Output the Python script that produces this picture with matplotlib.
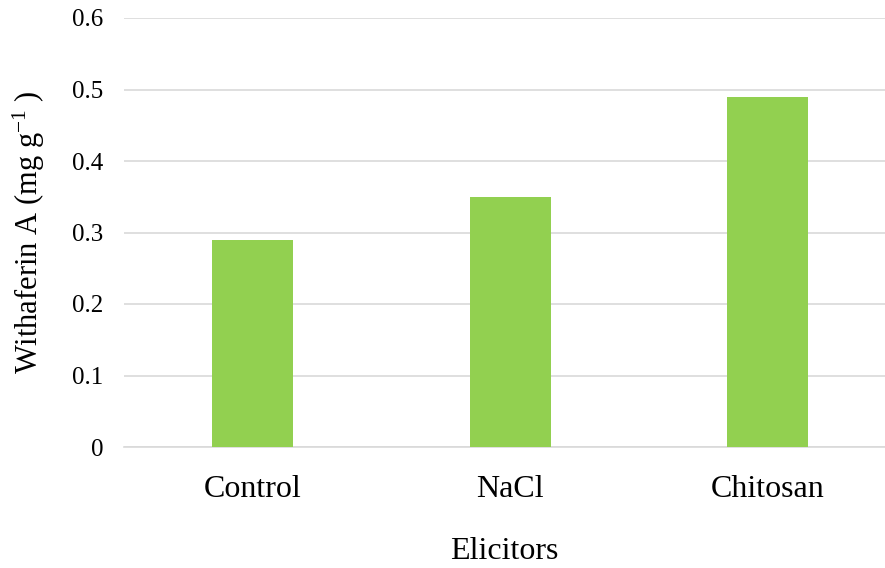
import matplotlib
matplotlib.use("Agg")
import matplotlib.pyplot as plt

elicitors = ["Control", "NaCl", "Chitosan"]
withaferin = [0.29, 0.35, 0.49]
y_ticks = [0, 0.1, 0.2, 0.3, 0.4, 0.5, 0.6]
y_tick_labels = ["0", "0.1", "0.2", "0.3", "0.4", "0.5", "0.6"]

plt.rcParams["font.family"] = ["Liberation Serif", "DejaVu Serif"]
plt.rcParams["mathtext.fontset"] = "custom"
plt.rcParams["mathtext.rm"] = "Liberation Serif"
plt.rcParams["mathtext.it"] = "Liberation Serif:italic"

fig = plt.figure(figsize=(8.85, 5.68), dpi=100)
ax = fig.add_axes([124 / 885, 121 / 568, 761 / 885, 429 / 568])

x = range(len(elicitors))
ax.bar(x, withaferin, width=0.315, color="#92D050", zorder=3)

ax.set_ylim(0, 0.6)
ax.set_xlim(-0.5, 2.455)
ax.set_yticks(y_ticks)
ax.set_yticklabels(y_tick_labels, fontsize=18)
ax.set_xticks(list(x))
ax.set_xticklabels(elicitors, fontsize=23)

ax.grid(axis="y", color="#D9D9D9", linewidth=1.2, zorder=0)
for side in ["top", "right", "left"]:
    ax.spines[side].set_visible(False)
ax.spines["bottom"].set_color("#D9D9D9")
ax.spines["bottom"].set_linewidth(1.2)
ax.tick_params(axis="both", length=0)
ax.tick_params(axis="y", pad=15)
ax.tick_params(axis="x", pad=20)

ax.set_xlabel("Elicitors", fontsize=23, labelpad=24)
ax.set_ylabel(r"Withaferin A (mg g$^{-1}$ )", fontsize=22, labelpad=18)

fig.savefig("out.png", dpi=100)
